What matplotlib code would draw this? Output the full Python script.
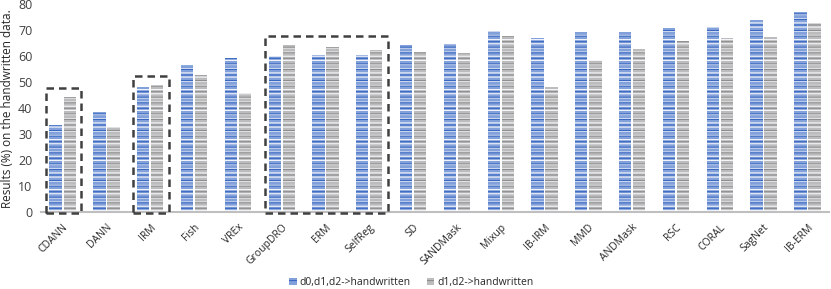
import matplotlib
matplotlib.use("Agg")
import matplotlib.pyplot as plt
from matplotlib.patches import Rectangle, Patch
import numpy as np

categories = ["CDANN", "DANN", "IRM", "Fish", "VREx", "GroupDRO", "ERM", "SelfReg",
              "SD", "SANDMask", "Mixup", "IB-IRM", "MMD", "ANDMask", "RSC", "CORAL",
              "SagNet", "IB-ERM"]
series_a = [33.4, 38.4, 48.0, 56.5, 59.3, 60.1, 60.5, 60.5, 64.2, 64.6, 69.6, 66.9,
            69.2, 69.4, 70.8, 71.4, 73.9, 77.1]
series_b = [44.2, 32.8, 48.9, 52.8, 46.0, 64.2, 63.5, 62.3, 61.5, 61.2, 67.7, 48.0,
            58.4, 62.8, 65.9, 67.1, 67.6, 72.8]
label_a = "d0,d1,d2->handwritten"
label_b = "d1,d2->handwritten"
yticks = [0, 10, 20, 30, 40, 50, 60, 70, 80]
boxed_groups = [["CDANN"], ["IRM"], ["GroupDRO", "ERM", "SelfReg"]]

plt.rcParams['font.family'] = ['Open Sans', 'DejaVu Sans']
plt.rcParams['hatch.linewidth'] = 0.8

fig = plt.figure(figsize=(8.31, 2.89), dpi=100)
ax = fig.add_axes([0.049, 0.266, 0.949, 0.719])

x = np.arange(len(categories))
w = 0.28
off = 0.16
blue, blue_line = '#82a0da', '#3a68c2'
gray, gray_line = '#bcbcbc', '#8f8f8f'

for pos, vals, fc, lc, lab in [(x - off, series_a, blue, blue_line, label_a),
                               (x + off, series_b, gray, gray_line, label_b)]:
    ax.bar(pos, vals, width=w, color=fc, linewidth=0, label=lab, zorder=2)
    ax.bar(pos, vals, width=w, fill=False, edgecolor='#f4f6fb', linewidth=0,
           hatch='----', zorder=2.1)
    ax.bar(pos, vals, width=w, fill=False, edgecolor=lc, linewidth=0,
           hatch='---', zorder=2.2)

for grp in boxed_groups:
    idx = [categories.index(g) for g in grp]
    lo, hi = min(idx) - 0.39, max(idx) + 0.42
    top = max(max(series_a[i], series_b[i]) for i in idx) + 3.7
    ax.add_patch(Rectangle((lo, -0.3), hi - lo, top + 0.3, fill=False,
                           edgecolor='#404040', linestyle=(0, (3, 2)),
                           linewidth=1.8, zorder=3, clip_on=False))

ax.set_xlim(-0.5, len(categories) - 0.5)
ax.set_ylim(0, 80)
ax.set_yticks(yticks)
ax.tick_params(axis='y', length=0, labelsize=9, colors='#404040', pad=6)
ax.tick_params(axis='x', length=0, pad=7)
ax.set_xticks(x)
ax.set_xticklabels(categories, rotation=45, ha='right', rotation_mode='anchor',
                   fontsize=7.5, color='#262626')
for s in ['top', 'right', 'left']:
    ax.spines[s].set_visible(False)
ax.spines['bottom'].set_color('#bfbfbf')
ax.spines['bottom'].set_linewidth(1.5)
ax.set_ylabel("Results (%) on the handwritten data.", fontsize=8.5, color='#262626',
              labelpad=3)

handles = [Patch(facecolor=blue, edgecolor=blue_line, linewidth=0, hatch='---'),
           Patch(facecolor=gray, edgecolor=gray_line, linewidth=0, hatch='---')]
fig.legend(handles, [label_a, label_b], loc='center', bbox_to_anchor=(0.495, 0.022),
           ncol=2, frameon=False, fontsize=7.5, handlelength=0.7, handleheight=0.7,
           handletextpad=0.3, columnspacing=1.5, labelcolor='#262626')

fig.savefig("out.png", dpi=100)
